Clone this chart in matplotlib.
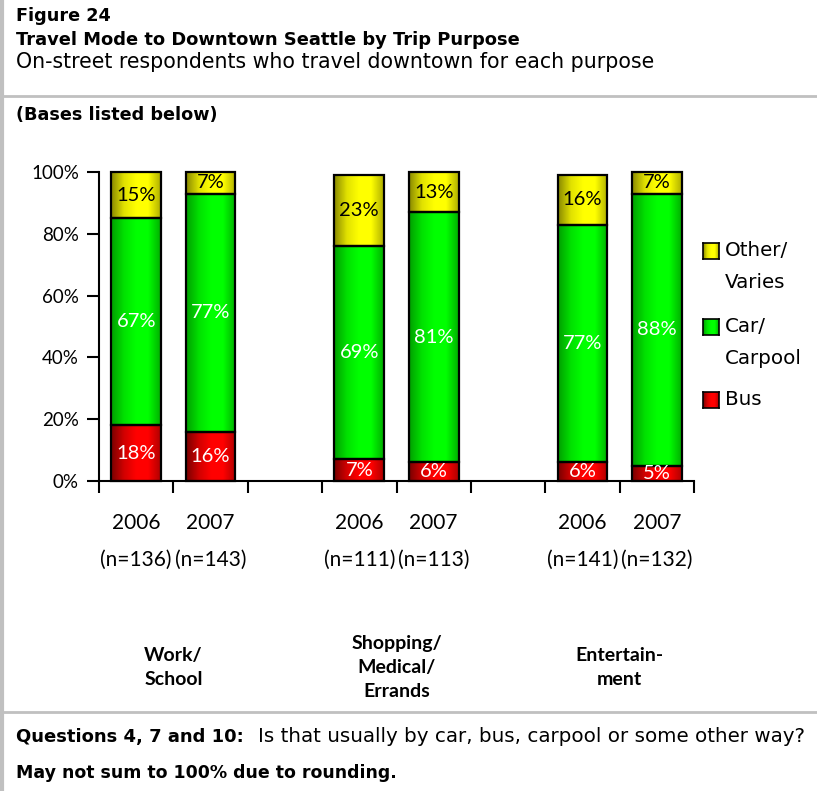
import numpy as np
import matplotlib
matplotlib.use('Agg')
import matplotlib.pyplot as plt
from matplotlib.patches import Rectangle
from matplotlib.colors import LinearSegmentedColormap

plt.rcParams['font.family'] = ['Lato', 'DejaVu Sans']

# data
groups = ['Work/\nSchool', 'Shopping/\nMedical/\nErrands', 'Entertain-\nment']
years = ['2006', '2007']
bases = [['(n=136)', '(n=143)'], ['(n=111)', '(n=113)'], ['(n=141)', '(n=132)']]
bus = [18, 16, 7, 6, 6, 5]
car = [67, 77, 69, 81, 77, 88]
other = [15, 7, 23, 13, 16, 7]
series = ['Bus', 'Car/\nCarpool', 'Other/\nVaries']

# gradients (dark left -> bright -> slightly dark right)
grad_cols = {
    'Bus': ['#7a0000', '#d00000', '#ff0000', '#ff0000', '#b00000'],
    'Car/\nCarpool': ['#00a000', '#00e000', '#00ff00', '#00ff00', '#00b000'],
    'Other/\nVaries': ['#8a8a00', '#e0e000', '#ffff00', '#ffff00', '#b0b000'],
}
txt_cols = {'Bus': 'white', 'Car/\nCarpool': 'white', 'Other/\nVaries': 'black'}
cmaps = {k: LinearSegmentedColormap.from_list(k, v) for k, v in grad_cols.items()}
grad = np.linspace(0, 1, 64).reshape(1, -1)

fig = plt.figure(figsize=(8.17, 7.91), dpi=100)
W, H = 817, 791
ax = fig.add_axes([99 / W, 1 - 481 / H, 595 / W, 309 / H])

bw = 0.67
xs = []
for g in range(len(groups)):
    for j in range(len(years)):
        xs.append(3 * g + j + 0.5)

vals = {'Bus': bus, 'Car/\nCarpool': car, 'Other/\nVaries': other}
for i, x in enumerate(xs):
    bottom = 0
    for s in series:
        v = vals[s][i]
        ax.imshow(grad, cmap=cmaps[s], extent=[x - bw / 2, x + bw / 2, bottom, bottom + v],
                  aspect='auto', zorder=2, clip_on=False, interpolation='bilinear')
        ax.add_patch(Rectangle((x - bw / 2, bottom), bw, v, fill=False, edgecolor='black',
                               linewidth=1.6, zorder=3, clip_on=False))
        ax.text(x, bottom + v / 2, f'{v}%', ha='center', va='center', color=txt_cols[s],
                fontsize=14.5, zorder=4)
        bottom += v

ax.set_xlim(0, 8)
ax.set_ylim(0, 100)
ax.set_yticks(np.arange(0, 101, 20))
ax.set_yticklabels([f'{t}%' for t in range(0, 101, 20)], fontsize=13.5)
ax.set_xticks(np.arange(0, 9))
ax.set_xticklabels([])
ax.tick_params(axis='both', length=8.5, width=1.5, direction='out', pad=6)
for sp in ['top', 'right']:
    ax.spines[sp].set_visible(False)
for sp in ['left', 'bottom']:
    ax.spines[sp].set_linewidth(1.5)

# category labels below axis
trans = ax.get_xaxis_transform()
for g in range(len(groups)):
    for j in range(len(years)):
        x = 3 * g + j + 0.5
        ax.text(x, -0.135, years[j], transform=trans, ha='center', va='center', fontsize=15)
        ax.text(x, -0.255, bases[g][j], transform=trans, ha='center', va='center', fontsize=15)
    ax.text(3 * g + 1, -0.605, groups[g], transform=trans, ha='center', va='center',
            fontsize=14, fontweight='bold', linespacing=1.5)

# legend
leg_items = [('Other/\nVaries', 251, 283), ('Car/\nCarpool', 327, 359), ('Bus', 400, None)]
for s, y1, y2 in leg_items:
    lax = fig.add_axes([703 / W, 1 - (y1 + 8) / H, 16 / W, 16 / H])
    lax.imshow(grad, cmap=cmaps[s], aspect='auto', interpolation='bilinear')
    lax.set_xticks([])
    lax.set_yticks([])
    for sp in lax.spines.values():
        sp.set_linewidth(1.2)
    parts = s.split('\n')
    fig.text(725 / W, 1 - y1 / H, parts[0], ha='left', va='center', fontsize=14.3,
             family='DejaVu Sans')
    if y2 is not None:
        fig.text(725 / W, 1 - y2 / H, parts[1], ha='left', va='center', fontsize=14.3,
                 family='DejaVu Sans')

# header / footer text
hf = 'DejaVu Sans'
fig.text(16 / W, 1 - 16 / H, 'Figure 24', ha='left', va='center', fontsize=12.7,
         fontweight='bold', family=hf)
fig.text(16 / W, 1 - 40 / H, 'Travel Mode to Downtown Seattle by Trip Purpose', ha='left',
         va='center', fontsize=12.9, fontweight='bold', family=hf)
fig.text(16 / W, 1 - 62 / H, 'On-street respondents who travel downtown for each purpose',
         ha='left', va='center', fontsize=14.8, family=hf)
fig.text(16 / W, 1 - 115 / H, '(Bases listed below)', ha='left', va='center', fontsize=12.7,
         fontweight='bold', family=hf)
q1 = fig.text(16 / W, 1 - 737 / H, 'Questions 4, 7 and 10:', ha='left', va='center',
              fontsize=13, fontweight='bold', family=hf)
fig.canvas.draw()
bb = q1.get_window_extent()
fig.text((bb.x1 + 14) / W, 1 - 737 / H, 'Is that usually by car, bus, carpool or some other way?',
         ha='left', va='center', fontsize=14.3, family=hf)
fig.text(16 / W, 1 - 773 / H, 'May not sum to 100% due to rounding.', ha='left', va='center',
         fontsize=12.5, fontweight='bold', family=hf)

# frame lines
fig.add_artist(plt.Line2D([1.5 / W, 1.5 / W], [0, 1], color='#c0c0c0', linewidth=3))
fig.add_artist(plt.Line2D([0, 1], [1 - 96 / H, 1 - 96 / H], color='#c0c0c0', linewidth=2))
fig.add_artist(plt.Line2D([0, 1], [1 - 712 / H, 1 - 712 / H], color='#c0c0c0', linewidth=2))

fig.savefig('out.png', dpi=100)
